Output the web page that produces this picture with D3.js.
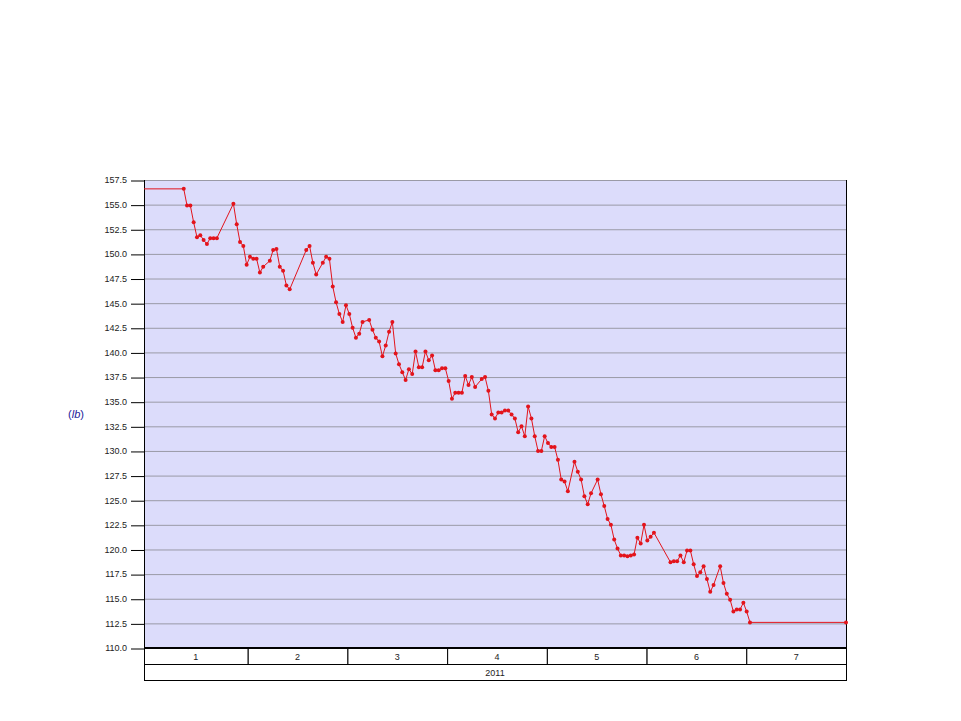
<!DOCTYPE html>
<html>
<head>
<meta charset="utf-8">
<script src="https://cdn.jsdelivr.net/npm/d3@7"></script>
<style>
  body { margin: 0; background: #fff; }
  text { font-family: Arial, "Liberation Sans", sans-serif; }
</style>
</head>
<body>
<div id="chart"></div>
<script>
// weight readings, 2011 (date, lb)
var dates = [
  "2011-01-13","2011-01-14","2011-01-15","2011-01-16","2011-01-17","2011-01-18","2011-01-19","2011-01-20",
  "2011-01-21","2011-01-22","2011-01-23","2011-01-28","2011-01-29","2011-01-30","2011-01-31",
  "2011-02-01","2011-02-02","2011-02-03","2011-02-04","2011-02-05","2011-02-06","2011-02-08","2011-02-09",
  "2011-02-10","2011-02-11","2011-02-12","2011-02-13","2011-02-14","2011-02-19","2011-02-20","2011-02-21",
  "2011-02-22","2011-02-24","2011-02-25","2011-02-26","2011-02-27","2011-02-28",
  "2011-03-01","2011-03-02","2011-03-03","2011-03-04","2011-03-05","2011-03-06","2011-03-07","2011-03-08",
  "2011-03-10","2011-03-11","2011-03-12","2011-03-13","2011-03-14","2011-03-15","2011-03-16","2011-03-17",
  "2011-03-18","2011-03-19","2011-03-20","2011-03-21","2011-03-22","2011-03-23","2011-03-24","2011-03-25",
  "2011-03-26","2011-03-27","2011-03-28","2011-03-29","2011-03-30","2011-03-31",
  "2011-04-01","2011-04-02","2011-04-03","2011-04-04","2011-04-05","2011-04-06","2011-04-07","2011-04-08",
  "2011-04-09","2011-04-10","2011-04-11","2011-04-13","2011-04-14","2011-04-15","2011-04-16","2011-04-17",
  "2011-04-18","2011-04-19","2011-04-20","2011-04-21","2011-04-22","2011-04-23","2011-04-24","2011-04-25",
  "2011-04-26","2011-04-27","2011-04-28","2011-04-29","2011-04-30",
  "2011-05-01","2011-05-02","2011-05-03","2011-05-04","2011-05-05","2011-05-06","2011-05-07","2011-05-08",
  "2011-05-09","2011-05-11","2011-05-12","2011-05-13","2011-05-14","2011-05-15","2011-05-16","2011-05-18",
  "2011-05-19","2011-05-20","2011-05-21","2011-05-22","2011-05-23","2011-05-24","2011-05-25","2011-05-26",
  "2011-05-27","2011-05-28","2011-05-29","2011-05-30","2011-05-31",
  "2011-06-01","2011-06-02","2011-06-03","2011-06-04","2011-06-09","2011-06-10","2011-06-11","2011-06-12",
  "2011-06-13","2011-06-14","2011-06-15","2011-06-16","2011-06-17","2011-06-18","2011-06-19","2011-06-20",
  "2011-06-21","2011-06-22","2011-06-24","2011-06-25","2011-06-26","2011-06-27","2011-06-28","2011-06-29",
  "2011-06-30","2011-07-01","2011-07-02","2011-07-03","2011-08-01"
];
var weights = [
  156.6,154.9,154.9,153.2,151.7,151.9,151.4,151.0,
  151.6,151.6,151.6,155.1,153.0,151.2,150.8,
  148.9,149.7,149.5,149.5,148.1,148.7,149.3,150.4,
  150.5,148.7,148.3,146.8,146.4,150.4,150.8,149.1,
  147.9,149.1,149.7,149.5,146.7,145.1,
  143.9,143.1,144.8,143.9,142.5,141.5,141.9,143.1,
  143.3,142.3,141.5,141.1,139.6,140.7,142.1,143.1,
  139.9,138.8,138.0,137.2,138.3,137.8,140.1,138.5,
  138.5,140.1,139.2,139.7,138.2,138.2,
  138.4,138.4,137.1,135.3,135.9,135.9,135.9,137.6,
  136.7,137.5,136.5,137.3,137.5,136.1,133.7,133.3,
  133.9,133.9,134.1,134.1,133.7,133.3,131.9,132.5,
  131.5,134.5,133.3,131.5,130.0,
  130.0,131.5,130.8,130.4,130.4,129.1,127.1,126.9,
  125.9,128.9,127.9,127.1,125.4,124.6,125.7,127.1,
  125.6,124.4,123.1,122.5,121.0,120.1,119.4,119.4,
  119.3,119.4,119.5,121.2,120.6,
  122.5,120.9,121.3,121.7,118.7,118.8,118.8,119.4,
  118.7,119.9,119.9,118.5,117.3,117.7,118.3,117.0,
  115.7,116.4,118.3,116.6,115.5,114.9,113.7,113.9,
  113.9,114.6,113.7,112.6,112.6
];
var yTicks = [110.0,112.5,115.0,117.5,120.0,122.5,125.0,127.5,130.0,132.5,135.0,137.5,140.0,142.5,145.0,147.5,150.0,152.5,155.0,157.5];
var months = ["1","2","3","4","5","6","7"];
var yearLabel = "2011";
var dateRange = ["2011-01-01", "2011-08-01"];

var width = 961, height = 721;
var margin = { top: 180, right: 115, bottom: 73, left: 144 };
var plotW = width - margin.left - margin.right,
    plotH = height - margin.top - margin.bottom;

var parse = d3.timeParse("%Y-%m-%d");
var data = dates.map(function(d, i) { return { date: parse(d), v: weights[i] }; });

var svg = d3.select("#chart").append("svg")
    .attr("width", width)
    .attr("height", height);

var x = d3.scaleTime()
    .domain(dateRange.map(parse))
    .range([0, plotW]);
var y = d3.scaleLinear()
    .domain([yTicks[0], yTicks[yTicks.length - 1]])
    .range([plotH, 0]);

var g = svg.append("g")
    .attr("transform", "translate(" + margin.left + "," + margin.top + ")");

// plot background
g.append("rect")
    .attr("width", plotW)
    .attr("height", plotH)
    .attr("fill", "#dcdcfb");

// grid lines
g.selectAll(".grid")
    .data(yTicks.slice(1))
    .enter().append("line")
    .attr("class", "grid")
    .attr("x1", 0)
    .attr("x2", plotW)
    .attr("y1", function(d) { return y(d) + 0.5; })
    .attr("y2", function(d) { return y(d) + 0.5; })
    .attr("stroke", "#9a9aa6")
    .attr("stroke-width", 1);

// y axis
var yAxis = g.append("g")
    .call(d3.axisLeft(y)
        .tickValues(yTicks)
        .tickSize(13)
        .tickPadding(4)
        .tickFormat(d3.format(".1f")));
yAxis.select(".domain").remove();
yAxis.selectAll(".tick line").attr("stroke", "#000").attr("transform", "translate(0,0.5)");
yAxis.selectAll(".tick text")
    .attr("fill", "#222")
    .style("font-size", "9px")
    .style("font-family", "Arial, 'Liberation Sans', sans-serif");

// plot borders
g.append("line").attr("x1", 0.5).attr("x2", 0.5).attr("y1", 0).attr("y2", plotH)
    .attr("stroke", "#000");
g.append("line").attr("x1", plotW + 0.5).attr("x2", plotW + 0.5).attr("y1", 0).attr("y2", plotH)
    .attr("stroke", "#000");

// unit label
var unit = svg.append("text")
    .attr("x", 76)
    .attr("y", margin.top + plotH / 2 + 4)
    .attr("text-anchor", "middle")
    .attr("fill", "#1a1a9a")
    .style("font-size", "11px");
unit.append("tspan").text("(");
unit.append("tspan").style("font-style", "italic").text("lb");
unit.append("tspan").text(")");

// line (carried back to the start of the range)
var lineData = [{ date: x.domain()[0], v: data[0].v }].concat(data);
var line = d3.line()
    .x(function(d) { return x(d.date); })
    .y(function(d) { return y(d.v); });

g.append("path")
    .datum(lineData)
    .attr("fill", "none")
    .attr("stroke", "#e3141c")
    .attr("stroke-width", 1)
    .attr("d", line);

g.selectAll(".dot")
    .data(data)
    .enter().append("circle")
    .attr("class", "dot")
    .attr("cx", function(d) { return x(d.date); })
    .attr("cy", function(d) { return y(d.v); })
    .attr("r", 2)
    .attr("fill", "#e3141c");

// x axis: month row and year row
var rowH = 16, yearH = 16;
var band = d3.scaleBand()
    .domain(months)
    .range([4, plotW]);

var axisG = g.append("g").attr("transform", "translate(0," + plotH + ")");

axisG.selectAll(".month")
    .data(months)
    .enter().append("rect")
    .attr("class", "month")
    .attr("x", function(d, i) { return i === 0 ? 0.5 : band(d) + 0.5; })
    .attr("y", 0.5)
    .attr("width", function(d, i) { return i === 0 ? band(d) + band.bandwidth() : band.bandwidth(); })
    .attr("height", rowH)
    .attr("fill", "#fff")
    .attr("stroke", "#000");

axisG.selectAll(".mlabel")
    .data(months)
    .enter().append("text")
    .attr("class", "mlabel")
    .attr("x", function(d, i) { return i === 0 ? (band(d) + band.bandwidth()) / 2 : band(d) + band.bandwidth() / 2; })
    .attr("y", 11.5)
    .attr("text-anchor", "middle")
    .attr("fill", "#222")
    .style("font-size", "9px")
    .text(function(d) { return d; });

axisG.append("rect")
    .attr("x", 0.5)
    .attr("y", rowH + 0.5)
    .attr("width", plotW)
    .attr("height", yearH)
    .attr("fill", "#fff")
    .attr("stroke", "#000");

axisG.append("text")
    .attr("x", plotW / 2)
    .attr("y", rowH + 11.5)
    .attr("text-anchor", "middle")
    .attr("fill", "#222")
    .style("font-size", "9px")
    .text(yearLabel);

// thick baseline
g.append("line")
    .attr("x1", 0).attr("x2", plotW + 1)
    .attr("y1", plotH).attr("y2", plotH)
    .attr("stroke", "#000")
    .attr("stroke-width", 2);
</script>
</body>
</html>
